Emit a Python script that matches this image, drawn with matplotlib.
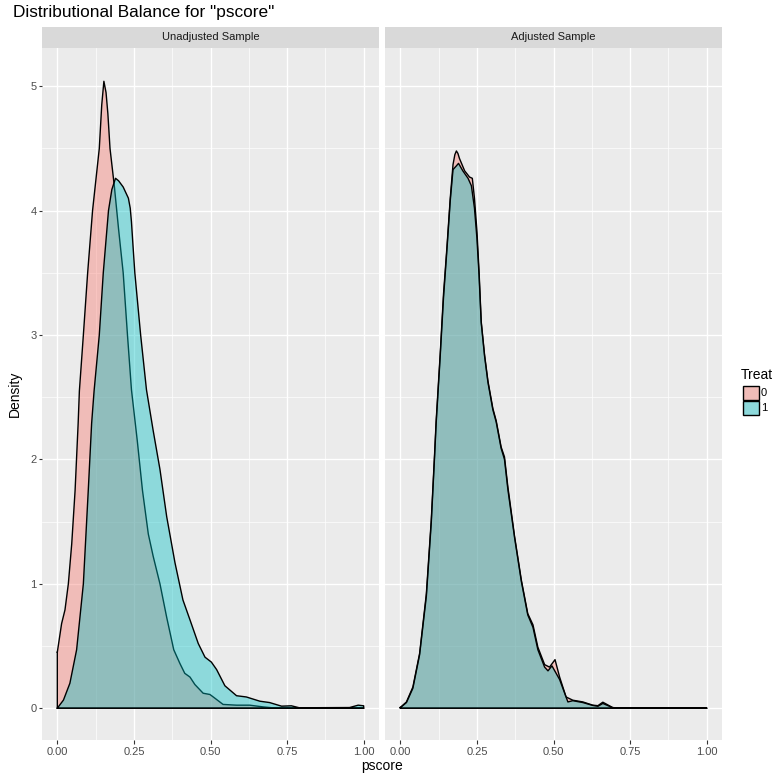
import numpy as np
import matplotlib
matplotlib.use("Agg")
import matplotlib.pyplot as plt
from matplotlib.patches import Rectangle

plt.rcParams['font.family'] = ['Liberation Sans', 'DejaVu Sans']

# data (density curves of pscore by treatment group)
treat_levels = ["0", "1"]
fill_colors = ["#F8766D", "#00BFC4"]
facet_labels = ["Unadjusted Sample", "Adjusted Sample"]

unadj_x0 = [0, 0.014, 0.025, 0.036, 0.047, 0.058, 0.068, 0.072, 0.085, 0.099, 0.115, 0.126,
            0.137, 0.145, 0.152, 0.159, 0.165, 0.172, 0.186, 0.20, 0.215, 0.229, 0.242, 0.261,
            0.278, 0.297, 0.313, 0.335, 0.357, 0.380, 0.40, 0.416, 0.433, 0.449, 0.476, 0.498,
            0.509, 0.541, 0.585, 0.628, 0.672, 0.715, 1.0]
unadj_y0 = [0.45, 0.68, 0.79, 1.0, 1.32, 1.75, 2.29, 2.55, 3.0, 3.5, 4.0, 4.25,
            4.5, 4.85, 5.04, 4.95, 4.78, 4.5, 4.2, 3.85, 3.5, 3.0, 2.56, 2.15,
            1.75, 1.40, 1.22, 1.0, 0.73, 0.47, 0.36, 0.28, 0.25, 0.19, 0.12, 0.11,
            0.09, 0.03, 0.024, 0.024, 0.01, 0.0, 0.0]

unadj_x1 = [0, 0.02, 0.041, 0.063, 0.085, 0.101, 0.112, 0.12, 0.137, 0.15, 0.167, 0.178,
            0.19, 0.20, 0.215, 0.232, 0.238, 0.242, 0.247, 0.253, 0.272, 0.291, 0.313, 0.335,
            0.357, 0.384, 0.41, 0.433, 0.46, 0.482, 0.503, 0.52, 0.547, 0.585, 0.617, 0.661,
            0.693, 0.732, 0.764, 0.79, 0.954, 0.982, 1.0]
unadj_y1 = [0.0, 0.065, 0.20, 0.47, 1.0, 1.75, 2.29, 2.55, 3.0, 3.5, 4.0, 4.17,
            4.26, 4.24, 4.19, 4.10, 4.02, 3.91, 3.72, 3.5, 3.0, 2.56, 2.23, 1.92,
            1.54, 1.17, 0.87, 0.71, 0.52, 0.41, 0.37, 0.31, 0.18, 0.10, 0.09, 0.056,
            0.045, 0.016, 0.019, 0.003, 0.005, 0.024, 0.019]

adj_x0 = [0, 0.02, 0.041, 0.063, 0.085, 0.101, 0.112, 0.117, 0.130, 0.141, 0.152, 0.163,
          0.172, 0.178, 0.183, 0.188, 0.193, 0.21, 0.226, 0.235, 0.242, 0.25, 0.257, 0.264,
          0.275, 0.286, 0.302, 0.313, 0.329, 0.34, 0.351, 0.373, 0.395, 0.416, 0.433, 0.449,
          0.471, 0.487, 0.505, 0.52, 0.541, 0.563, 0.596, 0.628, 0.645, 0.661, 0.693, 0.715,
          1.0]
adj_y0 = [0.005, 0.05, 0.17, 0.44, 0.92, 1.51, 2.05, 2.31, 2.84, 3.33, 3.70, 4.10,
          4.37, 4.45, 4.48, 4.46, 4.42, 4.32, 4.27, 4.26, 4.10, 3.84, 3.51, 3.11,
          2.84, 2.63, 2.41, 2.31, 2.10, 2.02, 1.78, 1.38, 1.03, 0.76, 0.67, 0.49,
          0.35, 0.33, 0.39, 0.25, 0.09, 0.064, 0.05, 0.024, 0.02, 0.048, 0.005, 0.0,
          0.0]

adj_x1 = [0, 0.02, 0.041, 0.063, 0.085, 0.101, 0.112, 0.117, 0.130, 0.141, 0.152, 0.163,
          0.172, 0.183, 0.19, 0.197, 0.204, 0.221, 0.232, 0.242, 0.25, 0.257, 0.264, 0.275,
          0.286, 0.302, 0.313, 0.329, 0.34, 0.351, 0.373, 0.395, 0.416, 0.433, 0.449, 0.471,
          0.482, 0.495, 0.52, 0.547, 0.563, 0.596, 0.628, 0.645, 0.661, 0.693, 0.715, 1.0]
adj_y1 = [0.004, 0.045, 0.16, 0.43, 0.90, 1.49, 2.03, 2.29, 2.82, 3.30, 3.68, 4.08,
          4.33, 4.36, 4.38, 4.35, 4.32, 4.26, 4.20, 4.02, 3.78, 3.48, 3.10, 2.83,
          2.62, 2.40, 2.30, 2.09, 2.00, 1.76, 1.37, 1.02, 0.75, 0.65, 0.47, 0.33,
          0.30, 0.34, 0.23, 0.05, 0.06, 0.045, 0.022, 0.015, 0.038, 0.004, 0.0, 0.0]

x_ticks = [0, 0.25, 0.5, 0.75, 1.0]
x_ticklabels = ["0.00", "0.25", "0.50", "0.75", "1.00"]
y_ticks = [0, 1, 2, 3, 4, 5]
y_ticklabels = ["0", "1", "2", "3", "4", "5"]

facets = [
    [(unadj_x0, unadj_y0), (unadj_x1, unadj_y1)],
    [(adj_x0, adj_y0), (adj_x1, adj_y1)],
]

W, H = 773, 779
fig = plt.figure(figsize=(W / 100, H / 100), dpi=100)


def fx(px):
    return px / W


def fy(py):
    return 1 - py / H


panel_left = [42, 385]
panel_w = 337
panel_top, panel_bot = 47.7, 740
strip_top = 26.7

for i, curves in enumerate(facets):
    ax = fig.add_axes([fx(panel_left[i]), fy(panel_bot), panel_w / W, (panel_bot - panel_top) / H])
    ax.set_facecolor("#EBEBEB")
    for j, (xs, ys) in enumerate(curves):
        xs = np.asarray(xs)
        ys = np.asarray(ys)
        # closed polygon: curve, then down to the baseline and back
        px = np.r_[xs, xs[-1], xs[0], xs[0]]
        py = np.r_[ys, 0, 0, ys[0]]
        ax.fill(px, py, facecolor=fill_colors[j], alpha=0.4, edgecolor="none", zorder=2 + j)
        ax.plot(px, py, color="black", lw=1.0, zorder=2 + j, solid_joinstyle="round")
    ax.set_xlim(-0.05, 1.05)
    ax.set_ylim(-0.256, 5.31)
    ax.set_xticks(x_ticks)
    ax.set_xticklabels(x_ticklabels)
    ax.set_xticks([0.125, 0.375, 0.625, 0.875], minor=True)
    ax.set_yticks(y_ticks)
    ax.set_yticks([0.5, 1.5, 2.5, 3.5, 4.5], minor=True)
    if i == 0:
        ax.set_yticklabels(y_ticklabels)
        ax.tick_params(axis="y", which="major", length=3.5 * 0.72, width=0.8,
                       color="#333333", labelcolor="#4D4D4D", labelsize=8, pad=1.5)
    else:
        ax.tick_params(axis="y", which="major", length=0, labelleft=False)
    ax.tick_params(axis="x", which="major", length=3.5 * 0.72, width=0.8,
                   color="#333333", labelcolor="#4D4D4D", labelsize=8, pad=2.5)
    ax.tick_params(which="minor", length=0)
    ax.grid(which="major", color="white", lw=1.0)
    ax.grid(which="minor", color="white", lw=0.5)
    ax.set_axisbelow(True)
    for s in ax.spines.values():
        s.set_visible(False)

    strip = fig.add_axes([fx(panel_left[i]), fy(panel_top), panel_w / W, (panel_top - strip_top) / H])
    strip.set_facecolor("#D9D9D9")
    strip.set_xticks([])
    strip.set_yticks([])
    for s in strip.spines.values():
        s.set_visible(False)
    strip.text(0.5, 0.5, facet_labels[i], ha="center", va="center", fontsize=8, color="#1A1A1A",
               transform=strip.transAxes)

fig.text(fx(13), fy(12), 'Distributional Balance for "pscore"', ha="left", va="center",
         fontsize=12.4, color="black")
fig.text(fx(382), fy(766), "pscore", ha="center", va="center", fontsize=10, color="black")
fig.text(fx(15), fy(394), "Density", ha="center", va="center", rotation=90, fontsize=10,
         color="black")

# legend
fig.text(fx(741), fy(375), "Treat", ha="left", va="center", fontsize=10, color="black")
for j, lev in enumerate(treat_levels):
    top = 386 + j * 15
    fig.add_artist(Rectangle((fx(743), fy(top + 14)), 16 / W, 14 / H, transform=fig.transFigure,
                             facecolor="#EBEBEB", edgecolor="none"))
    fig.add_artist(Rectangle((fx(743), fy(top + 14)), 16 / W, 14 / H, transform=fig.transFigure,
                             facecolor=fill_colors[j], alpha=0.4, edgecolor="none"))
    fig.add_artist(Rectangle((fx(743), fy(top + 14)), 16 / W, 14 / H, transform=fig.transFigure,
                             facecolor="none", edgecolor="black", lw=1.0))
    fig.text(fx(761), fy(top + 7), lev, ha="left", va="center", fontsize=8, color="black")

fig.savefig("out.png", dpi=100)
